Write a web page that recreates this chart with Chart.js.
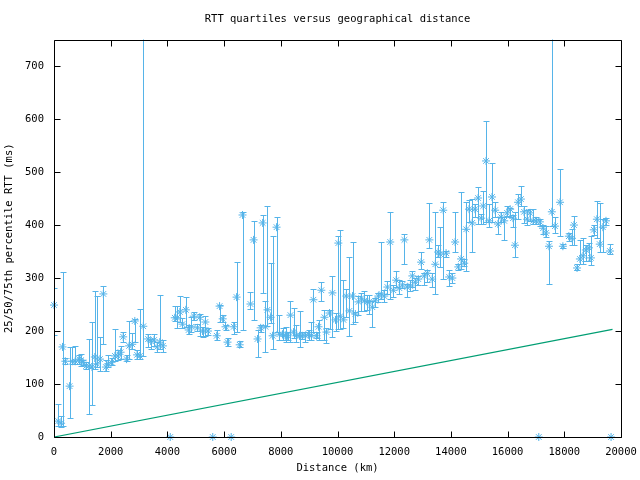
<!DOCTYPE html>
<html>
<head>
<meta charset="utf-8">
<script src="https://cdn.jsdelivr.net/npm/chart.js@4/dist/chart.umd.min.js"></script>
<style>
html, body { margin: 0; padding: 0; background: #fff; }
#wrap { width: 640px; height: 480px; }
</style>
</head>
<body>
<div id="wrap"><canvas id="rtt-chart" width="640" height="480"></canvas></div>
<script>
// distance bins (km) and 25/50/75th percentile RTT (ms)
const distances = [0, 150, 250, 300, 400, 550, 650, 750, 880, 950, 1030, 1130, 1240, 1340, 1440, 1520, 1620, 1740, 1830, 1910,
    2030, 2150, 2260, 2350, 2440, 2560, 2650, 2760, 2850, 2930, 3030, 3150, 3320, 3410, 3530, 3640, 3730, 3840,
    4100, 4260, 4350, 4440, 4530, 4650, 4750, 4850, 4930, 5060, 5140, 5240, 5340, 5430, 5600, 5740, 5840, 5950, 6050, 6120, 6250,
    6340, 6440, 6550, 6650, 6930, 7040, 7180, 7290, 7360,
    7460, 7530, 7640, 7710, 7850, 7950, 8060, 8170, 8240, 8340, 8450, 8550, 8660, 8760, 8870, 8980, 9080, 9150, 9260, 9330,
    9430, 9540, 9610, 9720, 9820, 9930, 10030, 10100, 10210, 10310, 10420, 10530, 10630, 10740, 10840, 10950,
    11050, 11120, 11230, 11330, 11440, 11550, 11650, 11760, 11860, 11970, 12070, 12180, 12290, 12360, 12460, 12570, 12640,
    12740, 12850, 12950, 13060, 13170, 13240, 13340, 13450, 13550, 13620, 13730, 13830, 13940, 14050, 14150, 14260, 14360,
    14470, 14540,
    14640, 14750, 14850, 14960, 15070, 15140, 15240, 15350, 15450, 15560, 15660, 15770, 15880, 15980, 16090, 16190, 16260,
    16370, 16470, 16580, 16690, 16790, 16900, 17000,
    17100, 17140, 17250, 17350, 17460, 17560, 17670, 17850, 17950, 18160, 18270, 18340, 18450, 18550, 18660, 18760, 18870,
    18940, 19040, 19150, 19250, 19360, 19470, 19610, 19650];
const q25 = [192, 20, 18, 21, 138, 36, 138, 138, 138, 134, 135, 128, 43, 60, 128, 132, 125, 175, 125, 132,
    135, 143, 145, 147, 179, 143, 147, 166, 179, 147, 147, 153, 170, 166, 172, 160, 166, 160,
    0, 219, 206, 217, 206, 208, 194, 198, 221, 200, 191, 189, 191, 192, 0, 183, 217, 217, 202, 172, 0,
    194, 198, 170, 202, 242, 221, 151, 198, 272,
    160, 209, 215, 166, 198, 183, 183, 179, 183, 179, 187, 179, 170, 185, 179, 183, 183, 198, 187, 183,
    257, 183, 177, 204, 189, 200, 204, 204, 206, 226, 191, 213, 217, 230, 238, 238,
    240, 232, 208, 245, 255, 260, 255, 270, 260, 264, 283, 270, 281, 326, 264, 275, 283,
    277, 287, 317, 287, 292, 357, 283, 270, 340, 321, 298, 340, 285, 290, 349, 315, 317,
    322, 313,
    406, 349, 415, 402, 402, 402, 406, 396, 406, 415, 383, 406, 372, 418, 415, 396, 340,
    411, 436, 404, 400, 408, 402, 402,
    0, 398, 383, 377, 289, 398, 385, 379, 357, 370, 362, 362, 315, 326, 326, 332, 332,
    325, 381, 375, 349, 349, 400, 345, 0];
const medians = [249, 30, 26, 170, 143, 96, 143, 143, 147, 145, 141, 134, 134, 132, 151, 138, 147, 270, 132, 138,
    141, 153, 153, 160, 189, 147, 172, 175, 219, 155, 153, 209, 185, 181, 183, 170, 179, 172,
    0, 225, 225, 236, 213, 240, 202, 208, 228, 206, 226, 200, 217, 200, 0, 191, 247, 223, 208, 179, 0,
    208, 264, 174, 419, 251, 372, 185, 206, 404,
    208, 240, 226, 191, 396, 194, 194, 191, 191, 230, 198, 191, 191, 191, 191, 194, 191, 259, 191, 208,
    277, 226, 198, 234, 272, 221, 366, 228, 221, 266, 238, 266, 232, 255, 262, 257,
    255, 255, 245, 257, 266, 270, 266, 283, 368, 277, 296, 281, 287, 372, 283, 285, 304,
    292, 298, 330, 304, 309, 372, 298, 326, 349, 345, 428, 347, 302, 300, 368, 321, 336,
    328, 392,
    430, 404, 430, 451, 413, 436, 521, 408, 453, 428, 402, 415, 408, 423, 430, 413, 362,
    443, 449, 425, 411, 423, 408, 408,
    0, 406, 394, 385, 360, 425, 398, 443, 360, 379, 375, 400, 319, 336, 342, 353, 357,
    338, 391, 411, 364, 396, 408, 351, 0];
const q75 = [281, 62, 40, 311, 150, 170, 170, 172, 155, 157, 145, 141, 185, 217, 275, 266, 189, 285, 146, 155,
    150, 204, 165, 172, 198, 155, 219, 196, 222, 165, 241, 1000, 194, 185, 194, 179, 268, 183,
    0, 247, 247, 266, 225, 264, 211, 226, 236, 213, 232, 208, 228, 205, 0, 202, 250, 230, 211, 187, 0,
    217, 330, 181, 424, 274, 408, 202, 212, 419,
    257, 436, 328, 379, 415, 230, 206, 208, 198, 257, 243, 211, 238, 198, 198, 202, 217, 279, 198, 221,
    293, 240, 206, 240, 304, 234, 379, 391, 296, 279, 340, 368, 236, 266, 272, 276,
    268, 268, 257, 262, 272, 368, 277, 294, 425, 287, 313, 296, 294, 383, 289, 296, 313,
    300, 304, 349, 309, 315, 442, 309, 425, 362, 396, 443, 351, 315, 310, 425, 326, 462,
    335, 443,
    447, 449, 440, 472, 420, 464, 596, 440, 517, 443, 415, 425, 415, 436, 432, 419, 425,
    458, 474, 436, 428, 430, 430, 415,
    0, 411, 400, 398, 370, 1000, 415, 506, 364, 385, 392, 417, 326, 372, 375, 362, 366,
    379, 400, 445, 441, 411, 413, 364, 0];

// lower bound line (speed of light in fibre)
const boundDist = [0, 19700];
const boundRtt = [0, 203];

const xTicks = [0, 2000, 4000, 6000, 8000, 10000, 12000, 14000, 16000, 18000, 20000];
const yTicks = [0, 100, 200, 300, 400, 500, 600, 700];

const blue = '#56b4e9';
const green = '#009e73';
const monoFont = { family: "'DejaVu Sans Mono', monospace", size: 10.5, weight: 'normal' };

// vertical 25..75 bars with small caps, drawn through the chart scales
const errorBars = {
    id: 'errorBars',
    beforeDatasetsDraw(chart) {
        const ctx = chart.ctx;
        const xs = chart.scales.x, ys = chart.scales.y;
        const area = chart.chartArea;
        ctx.save();
        ctx.beginPath();
        ctx.rect(area.left, area.top, area.right - area.left, area.bottom - area.top);
        ctx.clip();
        ctx.strokeStyle = blue;
        ctx.lineWidth = 1;
        ctx.beginPath();
        for (let i = 0; i < distances.length; i++) {
            if (q25[i] === q75[i]) continue;
            const x = Math.round(xs.getPixelForValue(distances[i])) + 0.5;
            const yLo = Math.round(ys.getPixelForValue(q25[i])) + 0.5;
            const yHi = Math.round(ys.getPixelForValue(q75[i])) + 0.5;
            ctx.moveTo(x, yLo); ctx.lineTo(x, yHi);
            ctx.moveTo(x - 3, yLo); ctx.lineTo(x + 3, yLo);
            ctx.moveTo(x - 3, yHi); ctx.lineTo(x + 3, yHi);
        }
        ctx.stroke();
        ctx.restore();
    }
};

// gnuplot style frame with inward ticks on all four sides
const frame = {
    id: 'frame',
    afterDraw(chart) {
        const ctx = chart.ctx;
        const xs = chart.scales.x, ys = chart.scales.y;
        const a = chart.chartArea;
        const l = Math.round(a.left) + 0.5, r = Math.round(a.right) + 0.5;
        const t = Math.round(a.top) + 0.5, b = Math.round(a.bottom) + 0.5;
        ctx.save();
        ctx.strokeStyle = '#000';
        ctx.lineWidth = 1;
        ctx.beginPath();
        ctx.rect(l, t, r - l, b - t);
        xTicks.forEach(v => {
            const x = Math.round(xs.getPixelForValue(v)) + 0.5;
            ctx.moveTo(x, b); ctx.lineTo(x, b - 6);
            ctx.moveTo(x, t); ctx.lineTo(x, t + 6);
        });
        yTicks.forEach(v => {
            const y = Math.round(ys.getPixelForValue(v)) + 0.5;
            ctx.moveTo(l, y); ctx.lineTo(l + 6, y);
            ctx.moveTo(r, y); ctx.lineTo(r - 6, y);
        });
        ctx.stroke();
        ctx.restore();
    }
};

const ctx = document.getElementById('rtt-chart').getContext('2d');
new Chart(ctx, {
    type: 'scatter',
    data: {
        datasets: [{
            label: 'median',
            data: distances.map((d, i) => ({ x: d, y: medians[i] })),
            pointStyle: 'star',
            pointRadius: 4,
            pointBorderWidth: 1,
            borderColor: blue,
            backgroundColor: blue,
            showLine: false,
            clip: false
        }, {
            label: 'bound',
            data: boundDist.map((d, i) => ({ x: d, y: boundRtt[i] })),
            showLine: true,
            borderColor: green,
            borderWidth: 1.2,
            pointRadius: 0
        }]
    },
    options: {
        responsive: false,
        animation: false,
        events: [],
        layout: { padding: { left: 0, right: 0, top: 0, bottom: 0 } },
        plugins: {
            legend: { display: false },
            tooltip: { enabled: false },
            title: {
                display: true,
                fullSize: false,
                text: 'RTT quartiles versus geographical distance',
                color: '#000',
                font: monoFont,
                padding: { top: 13, bottom: 14 }
            }
        },
        scales: {
            x: {
                type: 'linear',
                min: 0,
                max: 20000,
                grid: { display: false, drawTicks: false },
                border: { display: false },
                afterBuildTicks: s => { s.ticks = xTicks.map(v => ({ value: v })); },
                afterFit: s => { s.height = 43; s.paddingLeft = 0; s.paddingRight = 19; },
                ticks: { color: '#000', font: monoFont, padding: 9, maxRotation: 0, autoSkip: false, callback: v => String(v) },
                title: { display: true, text: 'Distance (km)', color: '#000', font: monoFont, padding: { top: 0, bottom: 5 } }
            },
            y: {
                type: 'linear',
                min: 0,
                max: 750,
                grid: { display: false, drawTicks: false },
                border: { display: false },
                afterBuildTicks: s => { s.ticks = yTicks.map(v => ({ value: v })); },
                afterFit: s => { s.width = 54; },
                ticks: { color: '#000', font: monoFont, padding: 10, callback: v => String(v) },
                title: { display: true, text: '25/50/75th percentile RTT (ms)', color: '#000', font: monoFont, padding: { top: 3, bottom: 0 } }
            }
        }
    },
    plugins: [errorBars, frame]
});
</script>
</body>
</html>
